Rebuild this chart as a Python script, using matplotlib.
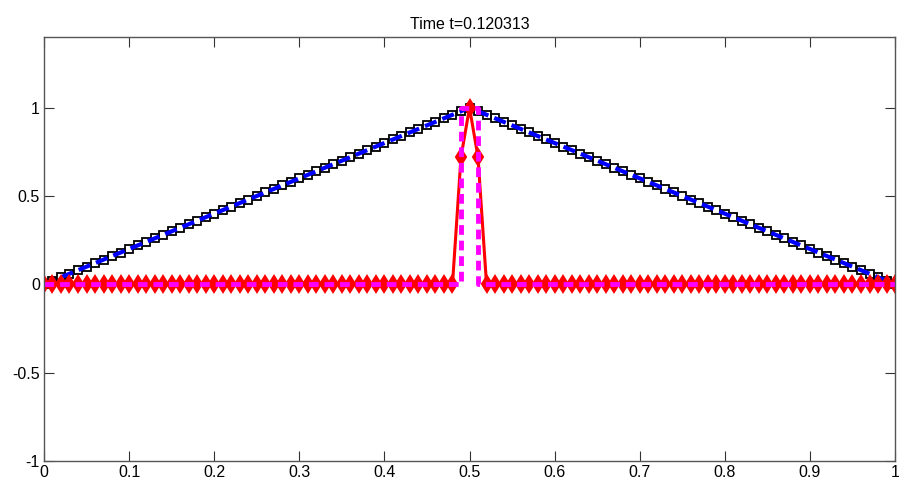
import numpy as np
import matplotlib
matplotlib.use('Agg')
import matplotlib.pyplot as plt

plt.rcParams['font.family'] = ['Liberation Sans', 'DejaVu Sans']

# grid (101 nodes on [0,1])
x = np.linspace(0, 1, 101)

# hat profile (black squares / blue dashed)
tri_up = [0.00, 0.02, 0.04, 0.06, 0.08, 0.10, 0.12, 0.14, 0.16, 0.18,
          0.20, 0.22, 0.24, 0.26, 0.28, 0.30, 0.32, 0.34, 0.36, 0.38,
          0.40, 0.42, 0.44, 0.46, 0.48, 0.50, 0.52, 0.54, 0.56, 0.58,
          0.60, 0.62, 0.64, 0.66, 0.68, 0.70, 0.72, 0.74, 0.76, 0.78,
          0.80, 0.82, 0.84, 0.86, 0.88, 0.90, 0.92, 0.94, 0.96, 0.98]
tri = tri_up + [1.00] + tri_up[::-1]

# numerical spike (red diamonds)
spike = [0.0] * 49 + [0.72, 1.00, 0.72] + [0.0] * 49

# exact pulse (magenta dashed)
pulse_x = [0.0, 0.49, 0.49, 0.51, 0.51, 1.0]
pulse_y = [0.0, 0.0, 1.0, 1.0, 0.0, 0.0]

title = 'Time t=0.120313'

fig = plt.figure(figsize=(8.99, 4.82), dpi=100)
ax = fig.add_axes([0.0489, 0.0436, 0.9467, 0.8796])

ax.plot(x, tri, 'ks', mfc='none', ms=5.8, mew=1.3)
ax.plot(x, tri, '--', color='#0000ff', lw=3, dashes=(3, 1.5))
ax.plot(x, spike, '-', color='#ff0000', lw=2.2, marker='d', ms=8,
        mfc='#ff0000', mec='#ff0000', mew=1.5)
ax.plot(pulse_x, pulse_y, '--', color='#ff00ff', lw=3.5, dashes=(2, 1.2))

ax.set_xlim(0, 1)
ax.set_ylim(-1, 1.4)
ax.set_xticks(np.arange(0, 1.01, 0.1))
ax.set_xticklabels(['0', '0.1', '0.2', '0.3', '0.4', '0.5', '0.6', '0.7', '0.8', '0.9', '1'])
ax.set_yticks([-1, -0.5, 0, 0.5, 1])
ax.set_yticklabels(['-1', '-0.5', '0', '0.5', '1'])
ax.tick_params(direction='in', length=7, top=True, right=True, labelsize=11.5,
               color='#333333', pad=3)
for s in ax.spines.values():
    s.set_color('#555555')
    s.set_linewidth(1)
ax.set_title(title, fontsize=11.5, pad=6)

fig.savefig('out.png', dpi=100)
